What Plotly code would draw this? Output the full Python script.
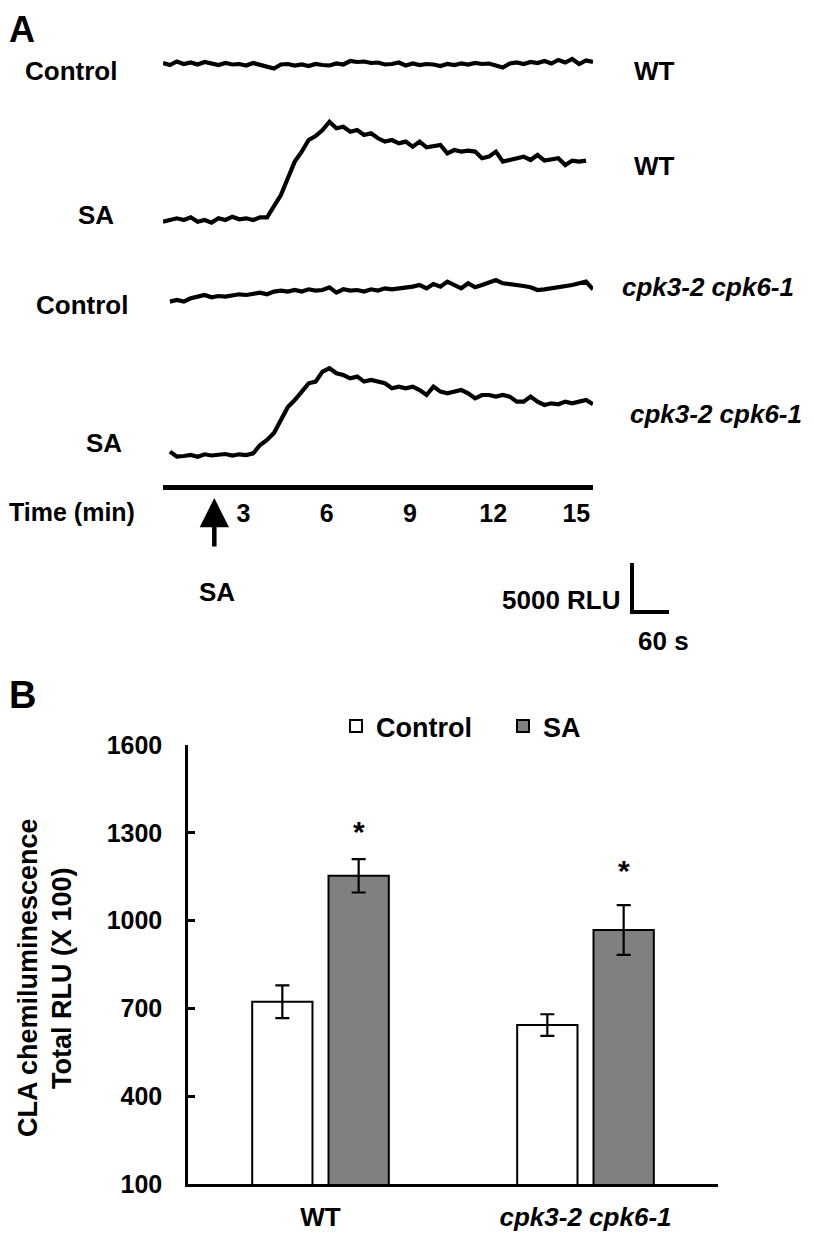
import plotly.graph_objects as go

# the page body keeps its default 8px margin, so the figure is 8px smaller than
# the window and every reference position is shifted by that offset
OFF = 8
W, H = 814 - OFF, 1237 - OFF
FONT = "Liberation Sans, Arial, sans-serif"

# ---- panel A: chemiluminescence traces (RLU) ----
t_min = [0.1, 0.35, 0.6, 0.85, 1.1, 1.35, 1.6, 1.85, 2.1, 2.35, 2.6, 2.85, 3.1, 3.35, 3.6, 3.85,
         4.1, 4.35, 4.6, 4.85, 5.1, 5.35, 5.6, 5.85, 6.1, 6.35, 6.6, 6.85, 7.1, 7.35, 7.6, 7.85,
         8.1, 8.35, 8.6, 8.85, 9.1, 9.35, 9.6, 9.85, 10.1, 10.35, 10.6, 10.85, 11.1, 11.35, 11.6,
         11.85, 12.1, 12.35, 12.6, 12.85, 13.1, 13.35, 13.6, 13.85, 14.1, 14.35, 14.6, 14.85,
         15.1, 15.35, 15.6]

wt_control = [2700, 2500, 2850, 2600, 2750, 2550, 2800, 2650, 2500, 2700,
              2550, 2600, 2450, 2700, 2500, 2400, 2150, 2550, 2600, 2450,
              2550, 2400, 2600, 2500, 2450, 2650, 2550, 2900, 2800, 2850,
              2700, 2750, 2550, 2600, 2750, 2450, 2650, 2500, 2600, 2550,
              2400, 2600, 2500, 2650, 2550, 2700, 2600, 2650, 2500, 2250,
              2650, 2750, 2600, 2800, 2700, 2900, 2650, 3000, 2750, 3100,
              2600, 2950, 2800]

wt_sa = [1330, 1500, 1670, 1500, 1770, 1330, 1500, 1240, 1670, 1500,
         1830, 1570, 1670, 1500, 1770, 1770, 2990, 4000, 5670, 7340,
         8340, 9500, 9900, 10500, 11330, 10670, 10830, 10330, 10500, 10000,
         10170, 9670, 9340, 9500, 9170, 9340, 8840, 9340, 8770, 8900,
         9000, 8170, 8500, 8340, 8440, 8340, 7670, 7840, 8340, 7340,
         7500, 7670, 7840, 7500, 8000, 7440, 7570, 7670, 7000, 7440,
         7340, 7440]

cpk_control = [840, 1000, 840, 1170, 1340, 1500, 1270, 1400, 1340, 1500,
               1570, 1500, 1670, 1740, 1570, 1840, 1940, 1840, 2000, 1840,
               2070, 1940, 2000, 2270, 1740, 2070, 1940, 2000, 1840, 2070,
               1940, 2170, 2070, 2170, 2170, 2340, 2500, 2170, 2600, 2340,
               2840, 2500, 2170, 2670, 2270, 2500, 2740, 3000, 2670, 2600,
               2500, 2400, 2270, 2000, 2070, 2170, 2270, 2340, 2500, 2670,
               2840, 2070]

cpk_sa = [1840, 1330, 1400, 1500, 1330, 1570, 1450, 1500, 1600, 1450,
          1570, 1500, 1670, 2500, 3000, 3700, 5000, 6300, 7000, 7840,
          8670, 8840, 9840, 10170, 9670, 9500, 9170, 9340, 8840, 9000,
          8840, 8670, 8170, 8340, 8170, 8340, 8000, 7500, 8340, 7840,
          7670, 7840, 8000, 7670, 7170, 7500, 7500, 7340, 7500, 7340,
          6840, 6840, 7340, 6840, 6500, 6670, 6570, 6840, 6670, 6840,
          7000, 6570]

time_ticks = [3, 6, 9, 12, 15]

# ---- panel B: total RLU (x 100) ----
genotypes = ["WT", "cpk3-2 cpk6-1"]
genotype_labels = ["WT", "<i>cpk3-2 cpk6-1</i>"]
control_mean = [723, 643]
control_err = [56, 37]
sa_mean = [1153, 968]
sa_err = [57, 85]
star_y = [1316, 1183]


def px(x):
    return max(x - OFF, 0) / W


def py(y):
    return 1 - (y - OFF) / H


fig = go.Figure()

# rows: (y-axis name, trace values, start index, top px, bottom px)
rows = [
    ("y2", wt_control, 0, 40, 90),
    ("y3", wt_sa, 0, 105, 235),
    ("y4", cpk_control, 1, 250, 310),
    ("y5", cpk_sa, 1, 330, 470),
]
for name, vals, start, top, bottom in rows:
    fig.add_trace(go.Scatter(
        x=t_min[start:start + len(vals)], y=vals, mode="lines",
        line=dict(color="black", width=4.2), xaxis="x", yaxis=name,
        showlegend=False, hoverinfo="skip"))
    fig.layout[name.replace("y", "yaxis")] = dict(
        domain=[py(bottom), py(top)], range=[0, (bottom - top) * 100],
        visible=False, anchor="x", fixedrange=True)

fig.update_layout(xaxis=dict(
    domain=[px(163), px(593)], range=[0.1, 15.6], anchor="free", position=py(487),
    showline=True, linewidth=4.5, linecolor="black", ticks="", showgrid=False,
    zeroline=False, tickvals=time_ticks, ticklabelstandoff=2, automargin=False,
    tickfont=dict(size=25, color="black", family=FONT, weight="bold")))

# ---- panel B bars ----
fig.add_trace(go.Bar(
    x=genotypes, y=control_mean, name="Control", xaxis="x2", yaxis="y6",
    marker=dict(color="white", line=dict(color="black", width=2)),
    error_y=dict(type="data", array=control_err, color="black", thickness=2.2, width=7)))
fig.add_trace(go.Bar(
    x=genotypes, y=sa_mean, name="SA", xaxis="x2", yaxis="y6",
    marker=dict(color="#808080", line=dict(color="black", width=2)),
    error_y=dict(type="data", array=sa_err, color="black", thickness=2.2, width=7)))

fig.update_layout(
    xaxis2=dict(domain=[px(188), px(718)], anchor="y6", showline=True, linewidth=3,
                linecolor="black", ticks="", showgrid=False, zeroline=False,
                tickvals=genotypes, ticktext=genotype_labels, ticklabelstandoff=8,
                automargin=False,
                tickfont=dict(size=26, color="black", family=FONT, weight="bold")),
    yaxis6=dict(domain=[py(1184), py(745)], anchor="x2", range=[100, 1600],
                tick0=100, dtick=300, automargin=False,
                showline=True, linewidth=2.5, linecolor="black", ticks="inside",
                ticklen=7, tickwidth=2.5, tickcolor="black", showgrid=False,
                zeroline=False, ticklabelstandoff=18,
                tickfont=dict(size=25, color="black", family=FONT, weight="bold")),
    barmode="group", bargap=0.424, bargroupgap=0.21,
)

ann = []


def label(text, x, y, size=26, xanchor="left", italic=False, **kw):
    if italic:
        text = "<i>" + text + "</i>"
    ann.append(dict(text=text, x=px(x), y=py(y), xref="paper", yref="paper",
                    xanchor=xanchor, yanchor="middle", showarrow=False, borderpad=0,
                    font=dict(size=size, color="black", family=FONT, weight="bold"), **kw))


label("A", 0, 30, size=36)
label("B", 0, 695, size=38)
label("Control", 24, 71)
label("WT", 633, 71)
label("SA", 77, 215)
label("WT", 633, 166)
label("Control", 35, 305)
label("cpk3-2 cpk6-1", 621, 287, italic=True)
label("SA", 85, 443)
label("cpk3-2 cpk6-1", 629, 414, italic=True)
label("Time (min)", 5, 512, size=25)
label("SA", 217, 592, xanchor="center")
label("5000 RLU", 622, 600, xanchor="right")
label("60 s", 663, 641, xanchor="center")
label("CLA chemiluminescence", 28, 978, size=27, xanchor="center", textangle=-90)
label("Total RLU (X 100)", 62, 978, size=27, xanchor="center", textangle=-90)

# arrow marking SA addition
ann.append(dict(x=1.95, y=py(498), xref="x", yref="paper", ax=0, ay=50, text="",
                showarrow=True, arrowhead=2, arrowsize=1.3, arrowwidth=4.5,
                arrowcolor="black"))

# significance stars
for g, ys in zip(genotypes, star_y):
    ann.append(dict(x=g, y=ys, xref="x2", yref="y6", xshift=38, yshift=-3, text="*",
                    showarrow=False, font=dict(size=30, color="black", family=FONT,
                                               weight="bold")))

fig.update_layout(annotations=ann)

# scale bar: 5000 RLU x 60 s
fig.add_shape(type="line", xref="paper", yref="paper", x0=px(632), x1=px(632),
              y0=py(563), y1=py(614), line=dict(color="black", width=4))
fig.add_shape(type="line", xref="paper", yref="paper", x0=px(630), x1=px(669),
              y0=py(612), y1=py(612), line=dict(color="black", width=4))

fig.update_layout(
    width=W, height=H, autosize=False,
    margin=dict(l=0, r=0, t=0, b=0, pad=0, autoexpand=False),
    paper_bgcolor="white", plot_bgcolor="white",
    font=dict(family=FONT, color="black"),
    legend=dict(orientation="h", x=px(336), y=py(702), xanchor="left", yanchor="top",
                entrywidth=122, itemwidth=30, traceorder="normal",
                font=dict(size=27, color="black", family=FONT, weight="bold"),
                bgcolor="rgba(0,0,0,0)"),
)

fig.write_html("out.html", config={"displayModeBar": False})
